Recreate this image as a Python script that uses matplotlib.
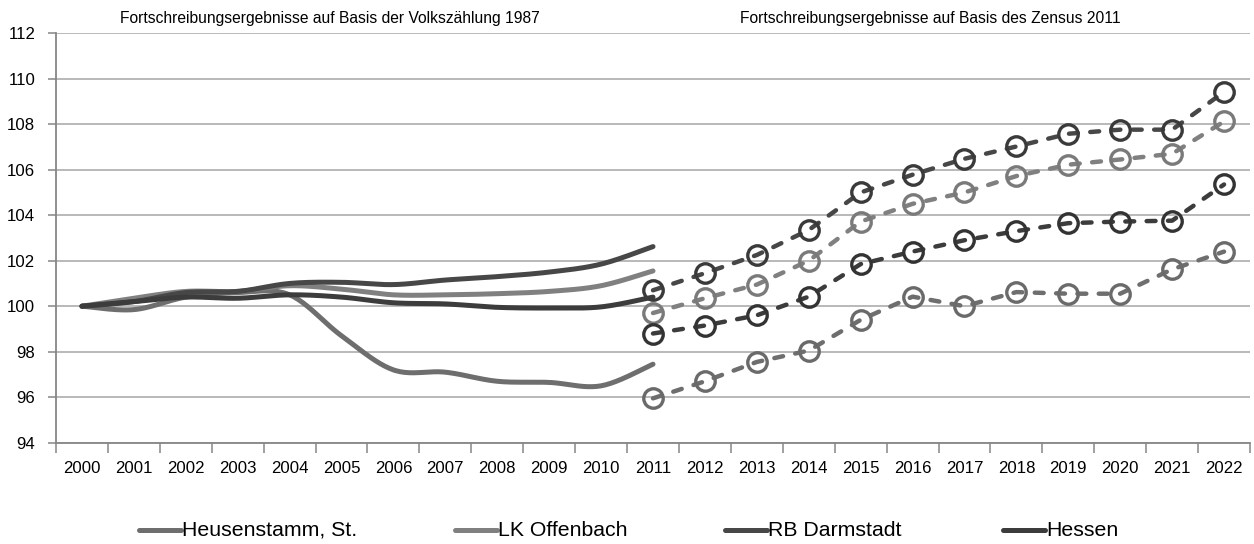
import matplotlib
matplotlib.use("Agg")
import matplotlib.pyplot as plt
from matplotlib import font_manager
from matplotlib.lines import Line2D
import numpy as np

# categories / values
years = [str(y) for y in range(2000, 2023)]
series = ["Heusenstamm, St.", "LK Offenbach", "RB Darmstadt", "Hessen"]

# Fortschreibung Volkszaehlung 1987, 2000-2011
heus_vz = [100, 99.85, 100.4, 100.6, 100.5, 98.7, 97.2, 97.1, 96.7, 96.65, 96.5, 97.45]
lkof_vz = [100, 100.35, 100.65, 100.65, 100.9, 100.75, 100.5, 100.5, 100.55, 100.65, 100.9, 101.55]
rbda_vz = [100, 100.2, 100.6, 100.65, 101.0, 101.05, 100.95, 101.15, 101.3, 101.5, 101.85, 102.62]
hess_vz = [100, 100.2, 100.4, 100.35, 100.5, 100.4, 100.15, 100.1, 99.95, 99.92, 99.97, 100.4]

# Fortschreibung Zensus 2011, 2011-2022
heus_z = [95.95, 96.7, 97.55, 98.05, 99.4, 100.42, 100.0, 100.62, 100.55, 100.55, 101.62, 102.4]
lkof_z = [99.7, 100.35, 100.95, 102.0, 103.72, 104.5, 105.0, 105.72, 106.22, 106.45, 106.7, 108.12]
rbda_z = [100.7, 101.45, 102.25, 103.35, 105.0, 105.78, 106.48, 107.02, 107.58, 107.76, 107.76, 109.42]
hess_z = [98.8, 99.15, 99.6, 100.42, 101.85, 102.4, 102.9, 103.3, 103.65, 103.72, 103.76, 105.35]

colors = ["#6e6e6e", "#808080", "#474747", "#3c3c3c"]
marker_colors = ["#6a6a6a", "#7a7a7a", "#3a3a3a", "#333333"]

names = {f.name for f in font_manager.fontManager.ttflist}
if "Liberation Sans Narrow" in names:
    fam, k = "Liberation Sans Narrow", 1.0
else:
    fam, k = "Liberation Sans", 0.85
plt.rcParams["font.family"] = [fam, "DejaVu Sans"]


def smooth(x, y, n=24):
    # excel-like smoothed line (catmull-rom bezier)
    p = np.column_stack([x, y]).astype(float)
    out = []
    for i in range(len(p) - 1):
        p0 = p[i - 1] if i > 0 else p[i]
        p1, p2 = p[i], p[i + 1]
        p3 = p[i + 2] if i + 2 < len(p) else p[i + 1]
        c1 = p1 + (p2 - p0) / 6
        c2 = p2 - (p3 - p1) / 6
        t = np.linspace(0, 1, n)[:, None]
        seg = (1 - t) ** 3 * p1 + 3 * (1 - t) ** 2 * t * c1 + 3 * (1 - t) * t ** 2 * c2 + t ** 3 * p2
        out.append(seg if i == 0 else seg[1:])
    out = np.vstack(out)
    return out[:, 0], out[:, 1]


W, H = 1254, 544
fig = plt.figure(figsize=(W / 100, H / 100), dpi=100)
ax = fig.add_axes([56 / W, 1 - 442.7 / H, (1250 - 56) / W, (442.7 - 33.2) / H])

x_vz = np.arange(0, 12)
x_z = np.arange(11, 23)
vz = [heus_vz, lkof_vz, rbda_vz, hess_vz]
zz = [heus_z, lkof_z, rbda_z, hess_z]

for i in range(4):
    sx, sy = smooth(x_vz, vz[i])
    ax.plot(sx, sy, color=colors[i], lw=3.6, solid_capstyle="round", zorder=3)
for i in range(4):
    ax.plot(x_z, zz[i], color=colors[i], lw=3.2, linestyle=(0, (2, 2.8)),
            dash_capstyle="round", marker="o", ms=14, mfc="none",
            mec=marker_colors[i], mew=2.4, zorder=4)

ax.set_xlim(-0.5, 22.5)
ax.set_ylim(94, 112)
ax.set_yticks(range(94, 113, 2))
ax.yaxis.grid(True, color="#a6a6a6", lw=1.1)
ax.set_axisbelow(True)
ax.set_xticks(np.arange(-0.5, 23, 1))
ax.set_xticklabels([])
ax.set_xticks(range(23), minor=True)
ax.set_xticklabels(years, minor=True)
ax.tick_params(axis="x", which="major", length=7, width=1.1, color="#868686")
ax.tick_params(axis="x", which="minor", length=0, pad=13, labelsize=14.2 * k)
ax.tick_params(axis="y", length=6, width=1.1, color="#868686", pad=9, labelsize=14.2 * k)
for s in ["top", "right"]:
    ax.spines[s].set_visible(False)
for s in ["left", "bottom"]:
    ax.spines[s].set_color("#868686")
    ax.spines[s].set_linewidth(1.3)

fig.text(330 / W, 1 - 19 / H, "Fortschreibungsergebnisse auf Basis der Volkszählung 1987",
         ha="center", va="center", fontsize=13.2 * k)
fig.text(930 / W, 1 - 19 / H, "Fortschreibungsergebnisse auf Basis des Zensus 2011",
         ha="center", va="center", fontsize=13.2 * k)

# legend
leg_x = [139, 455, 725, 1003]
ly = 1 - 530 / H
for i in range(4):
    fig.add_artist(Line2D([leg_x[i] / W, (leg_x[i] + 42) / W], [ly, ly], transform=fig.transFigure,
                          color=colors[i], lw=3.6, solid_capstyle="round"))
    fig.text((leg_x[i] + 43) / W, ly, series[i], ha="left", va="center", fontsize=18 * k)

fig.savefig("out.png", dpi=100)
